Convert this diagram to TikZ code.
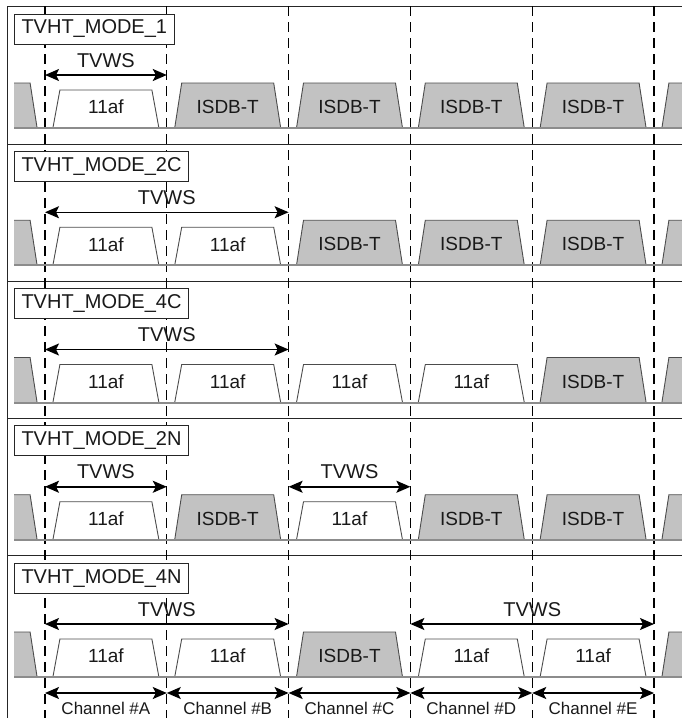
\documentclass[tikz,border=0pt]{standalone}
\usepackage{fontspec}
\setmainfont{Liberation Sans}
\usetikzlibrary{arrows.meta}

\definecolor{maskgray}{gray}{0.76}
\definecolor{edgegray}{gray}{0.3}
\definecolor{floorgray}{gray}{0.55}

\tikzset{
  frame/.style={black!85, line width=1pt},
  chanline/.style={black, line width=1.1pt, dash pattern=on 10pt off 6pt},
  floorline/.style={floorgray, line width=2pt},
  isdbshape/.style={draw=edgegray, fill=maskgray, line width=0.9pt},
  afshape/.style={draw=edgegray, fill=white, line width=0.9pt},
  masktext/.style={inner sep=0pt, text=black!90, font=\fontsize{19}{20}\selectfont},
  modebox/.style={draw=black!85, fill=white, line width=1pt, anchor=west,
    inner xsep=7pt, inner ysep=0pt, minimum height=30pt, text=black!90,
    font=\fontsize{20}{22}\selectfont},
  span/.style={{Stealth[length=14pt, width=12pt, inset=3pt]}-{Stealth[length=14pt, width=12pt, inset=3pt]}, line width=1.5pt},
  spantext/.style={above=7pt, inner sep=0pt, text=black!90, font=\fontsize{20}{21}\selectfont},
  chantext/.style={below=8pt, inner sep=0pt, text=black!90, font=\fontsize{17}{18}\selectfont}
}

% ISDB-T mask: name, channel centre, floor
\newcommand{\isdbmask}[4]{%
  \draw[isdbshape] ({#2-53},#3) -- ({#2-46},{#3-45}) -- ({#2+46},{#3-45}) -- ({#2+53},#3);
  \node[masktext] (#1) at (#2,{#3-21}) {#4};}
% 11af mask: name, channel centre, floor
\newcommand{\afmask}[3]{%
  \draw[afshape] ({#2-53},#3) -- ({#2-46},{#3-38}) -- ({#2+46},{#3-38}) -- ({#2+53},#3);
  \node[masktext] (#1) at (#2,{#3-21}) {11af};}

\begin{document}
\begin{tikzpicture}[x=1pt, y=-1pt]
    \useasboundingbox (0,0) rectangle (682,718);

    % Frame
    \draw[frame] (682,6) -- (7,6) -- (7,718);
    \foreach \y in {144,281.25,418.5,555.75}
        \draw[frame] (7,\y) -- (682,\y);

    % Channel borders
    \foreach \x in {45,166.8,288.6,410.4,532.2,654}
        \draw[chanline] (\x,6) -- (\x,718);

    % Masks
    \begin{scope}
        \clip (14,0) rectangle (682,718);
        % TVHT_MODE_1
        \isdbmask{m1l}{-15.9}{128}{}
        \afmask{m1a}{105.9}{128}
        \isdbmask{m1b}{227.7}{128}{ISDB-T}
        \isdbmask{m1c}{349.5}{128}{ISDB-T}
        \isdbmask{m1d}{471.3}{128}{ISDB-T}
        \isdbmask{m1e}{593.1}{128}{ISDB-T}
        \isdbmask{m1r}{714.9}{128}{}
        % TVHT_MODE_2C
        \isdbmask{m2l}{-15.9}{265.25}{}
        \afmask{m2a}{105.9}{265.25}
        \afmask{m2b}{227.7}{265.25}
        \isdbmask{m2c}{349.5}{265.25}{ISDB-T}
        \isdbmask{m2d}{471.3}{265.25}{ISDB-T}
        \isdbmask{m2e}{593.1}{265.25}{ISDB-T}
        \isdbmask{m2r}{714.9}{265.25}{}
        % TVHT_MODE_4C
        \isdbmask{m3l}{-15.9}{402.5}{}
        \afmask{m3a}{105.9}{402.5}
        \afmask{m3b}{227.7}{402.5}
        \afmask{m3c}{349.5}{402.5}
        \afmask{m3d}{471.3}{402.5}
        \isdbmask{m3e}{593.1}{402.5}{ISDB-T}
        \isdbmask{m3r}{714.9}{402.5}{}
        % TVHT_MODE_2N
        \isdbmask{m4l}{-15.9}{539.75}{}
        \afmask{m4a}{105.9}{539.75}
        \isdbmask{m4b}{227.7}{539.75}{ISDB-T}
        \afmask{m4c}{349.5}{539.75}
        \isdbmask{m4d}{471.3}{539.75}{ISDB-T}
        \isdbmask{m4e}{593.1}{539.75}{ISDB-T}
        \isdbmask{m4r}{714.9}{539.75}{}
        % TVHT_MODE_4N
        \isdbmask{m5l}{-15.9}{677}{}
        \afmask{m5a}{105.9}{677}
        \afmask{m5b}{227.7}{677}
        \isdbmask{m5c}{349.5}{677}{ISDB-T}
        \afmask{m5d}{471.3}{677}
        \afmask{m5e}{593.1}{677}
        \isdbmask{m5r}{714.9}{677}{}
        % Floors
        \foreach \y in {128,265.25,402.5,539.75,677}
            \draw[floorline] (14,\y) -- (682,\y);
    \end{scope}

    % Mode labels
    \node[modebox] (mode1) at (14,29) {TVHT\_MODE\_1};
    \node[modebox] (mode2) at (14,166.25) {TVHT\_MODE\_2C};
    \node[modebox] (mode3) at (14,303.5) {TVHT\_MODE\_4C};
    \node[modebox] (mode4) at (14,440.75) {TVHT\_MODE\_2N};
    \node[modebox] (mode5) at (14,578) {TVHT\_MODE\_4N};

    % TVWS spans
    \coordinate (w1a) at (45,75);
    \coordinate (w1b) at (166.8,75);
    \coordinate (w2a) at (45,212.25);
    \coordinate (w2b) at (288.6,212.25);
    \coordinate (w3a) at (45,349.5);
    \coordinate (w3b) at (288.6,349.5);
    \coordinate (w4a) at (45,486.75);
    \coordinate (w4b) at (166.8,486.75);
    \coordinate (w4c) at (288.6,486.75);
    \coordinate (w4d) at (410.4,486.75);
    \coordinate (w5a) at (45,624);
    \coordinate (w5b) at (288.6,624);
    \coordinate (w5c) at (410.4,624);
    \coordinate (w5d) at (654,624);
    \draw[span] (w1a) -- node[spantext] (tv1) {TVWS} (w1b);
    \draw[span] (w2a) -- node[spantext] (tv2) {TVWS} (w2b);
    \draw[span] (w3a) -- node[spantext] (tv3) {TVWS} (w3b);
    \draw[span] (w4a) -- node[spantext] (tv4a) {TVWS} (w4b);
    \draw[span] (w4c) -- node[spantext] (tv4b) {TVWS} (w4d);
    \draw[span] (w5a) -- node[spantext] (tv5a) {TVWS} (w5b);
    \draw[span] (w5c) -- node[spantext] (tv5b) {TVWS} (w5d);

    % Channels
    \coordinate (c0) at (45,693);
    \coordinate (c1) at (166.8,693);
    \coordinate (c2) at (288.6,693);
    \coordinate (c3) at (410.4,693);
    \coordinate (c4) at (532.2,693);
    \coordinate (c5) at (654,693);
    \draw[span] (c0) -- node[chantext] (chA) {Channel \#A} (c1);
    \draw[span] (c1) -- node[chantext] (chB) {Channel \#B} (c2);
    \draw[span] (c2) -- node[chantext] (chC) {Channel \#C} (c3);
    \draw[span] (c3) -- node[chantext] (chD) {Channel \#D} (c4);
    \draw[span] (c4) -- node[chantext] (chE) {Channel \#E} (c5);
\end{tikzpicture}
\end{document}
